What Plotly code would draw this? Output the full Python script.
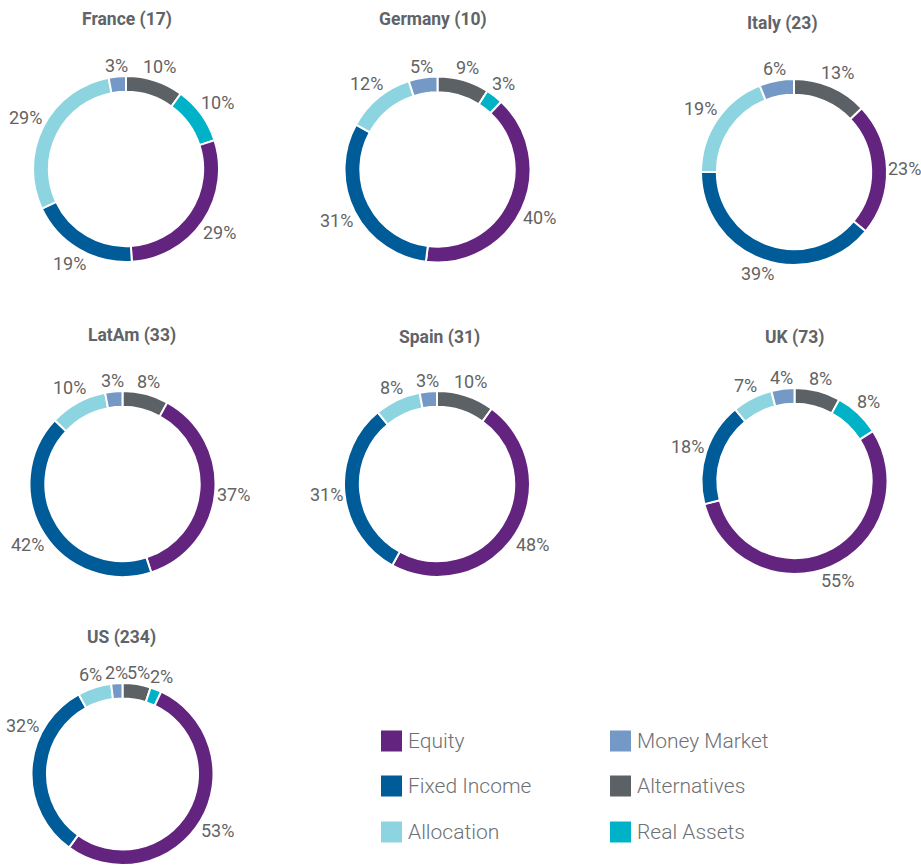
import math
import plotly.graph_objects as go

# ---- data ----
categories = ["Alternatives", "Real Assets", "Equity", "Fixed Income", "Allocation", "Money Market"]
regions = ["France (17)", "Germany (10)", "Italy (23)", "LatAm (33)", "Spain (31)", "UK (73)", "US (234)"]
france = [10, 10, 29, 19, 29, 3]
germany = [9, 3, 40, 31, 12, 5]
italy = [13, 0, 23, 39, 19, 6]
latam = [8, 0, 37, 42, 10, 3]
spain = [10, 0, 48, 31, 8, 3]
uk = [8, 8, 55, 18, 7, 4]
us = [5, 2, 53, 32, 6, 2]
series = [france, germany, italy, latam, spain, uk, us]
legend_order = ["Equity", "Money Market", "Fixed Income", "Alternatives", "Allocation", "Real Assets"]

colors = {
    "Equity": "#63247F",
    "Fixed Income": "#005B99",
    "Allocation": "#8DD4E1",
    "Money Market": "#7499C6",
    "Alternatives": "#5C6166",
    "Real Assets": "#00B2C8",
}

W, H = 921, 865
# (center x, center y, radius) in pixels, top-left origin
layout_px = [
    (126, 169, 93), (437.5, 169.5, 93), (794, 172, 93),
    (122.5, 484, 93), (437, 484, 93), (794.5, 481, 93),
    (122.5, 774, 91),
]
title_px = [(127, 20), (433, 20), (782, 23), (132, 335), (439, 337), (794, 337), (121, 637)]

LABEL_COLOR = "#636363"
LABEL_SIZE = 18
fig = go.Figure()
annotations = []


def label_pos(theta, cx, cy, r, w, h):
    s, c = math.sin(theta), math.cos(theta)
    dist = r + 1 + w / 2 * abs(s) + h / 2 * abs(c)
    return cx + dist * s, cy - dist * c


for name, vals, (cx, cy, r) in zip(regions, series, layout_px):
    labs = [c for c, v in zip(categories, vals) if v > 0]
    vs = [v for v in vals if v > 0]
    x0, x1 = (cx - r) / W, (cx + r) / W
    y0 = max(0, 1 - (cy + r) / H)
    y1 = min(1, 1 - (cy - r) / H)
    fig.add_trace(go.Pie(
        labels=labs, values=vs, sort=False, direction="clockwise", rotation=0,
        hole=0.83,
        marker=dict(colors=[colors[l] for l in labs], line=dict(color="white", width=2)),
        textinfo="none",
        domain=dict(x=[x0, x1], y=[y0, y1]),
        showlegend=False, hoverinfo="label+value", name=name,
    ))
    # percentage labels placed outside the ring at each slice's mid-angle
    total = float(sum(vs))
    cum = 0.0
    for v in vs:
        theta = math.radians((cum + v / 2) / total * 360)
        cum += v
        txt = f"{v}%"
        w = 0.56 * LABEL_SIZE * (len(txt) - 1) + 0.73 * LABEL_SIZE
        h = LABEL_SIZE
        px, py = label_pos(theta, cx, cy, r, w, h)
        # slide along the ring if the label would run off the left edge
        step = math.radians(0.5) if math.cos(theta) > 0 else -math.radians(0.5)
        n = 0
        while px - w / 2 < 6 and n < 200:
            theta += step
            px, py = label_pos(theta, cx, cy, r, w, h)
            n += 1
        annotations.append(dict(
            text=txt, x=px / W, y=1 - py / H, xref="paper", yref="paper",
            showarrow=False, xanchor="center", yanchor="middle",
            font=dict(family="Roboto", size=LABEL_SIZE, color=LABEL_COLOR),
        ))

for name, (tx, ty) in zip(regions, title_px):
    annotations.append(dict(
        text=name, x=tx / W, y=1 - ty / H, xref="paper", yref="paper",
        showarrow=False, xanchor="center", yanchor="middle",
        font=dict(family="Roboto", size=17.5, color="#606468", weight="bold"),
    ))

# manual legend, 2 columns x 3 rows
shapes = []
col_x = [381, 610]
row_y = [741, 786, 832]
for i, lab in enumerate(legend_order):
    cxp = col_x[i % 2]
    cyp = row_y[i // 2]
    shapes.append(dict(type="rect", xref="paper", yref="paper",
                       x0=cxp / W, x1=(cxp + 21) / W,
                       y0=1 - (cyp + 10.5) / H, y1=1 - (cyp - 10.5) / H,
                       fillcolor=colors[lab], line=dict(width=0)))
    annotations.append(dict(
        text=lab, x=(cxp + 25) / W, y=1 - cyp / H, xref="paper", yref="paper",
        showarrow=False, xanchor="left", yanchor="middle",
        font=dict(family="Roboto", size=21, color="#6E7175", weight=300),
    ))

fig.update_layout(
    width=W, height=H, margin=dict(l=0, r=0, t=0, b=0),
    paper_bgcolor="white", plot_bgcolor="white",
    annotations=annotations, shapes=shapes,
)
fig.write_html(
    "out.html",
    config={"displayModeBar": False},
    post_script="document.body.style.margin='0';document.documentElement.style.overflow='hidden';",
)
